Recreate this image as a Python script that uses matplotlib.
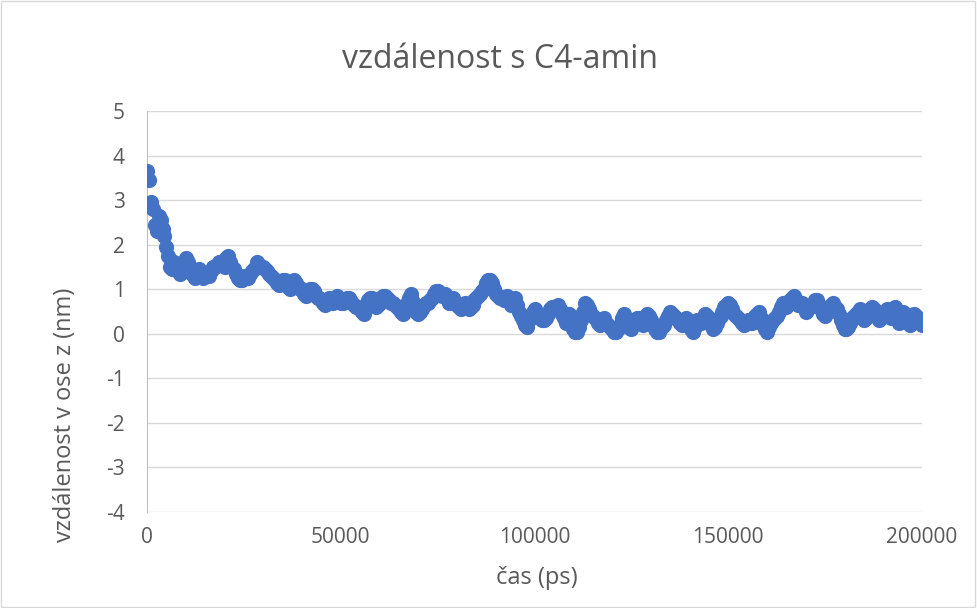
import matplotlib.pyplot as plt

# distance readings every 1000 ps (0, 1000, ... 200000)
cas_cele = [i * 1000 for i in range(201)]
vzdalenost_cele = [
    3.65, 2.95, 2.45, 2.65, 2.35, 1.95, 1.5, 1.6, 1.4, 1.5,
    1.7, 1.5, 1.3, 1.4, 1.3, 1.35, 1.3, 1.5, 1.55, 1.6,
    1.5, 1.75, 1.5, 1.35, 1.2, 1.3, 1.25, 1.4, 1.5, 1.55,
    1.5, 1.4, 1.3, 1.2, 1.1, 1.2, 1.15, 1.0, 1.2, 1.05,
    1.0, 0.85, 1.0, 0.95, 0.8, 0.75, 0.65, 0.8, 0.7, 0.85,
    0.7, 0.75, 0.8, 0.7, 0.6, 0.55, 0.45, 0.75, 0.8, 0.6,
    0.7, 0.85, 0.8, 0.7, 0.65, 0.55, 0.45, 0.7, 0.9, 0.6,
    0.45, 0.55, 0.7, 0.75, 0.9, 0.95, 0.85, 0.9, 0.7, 0.8,
    0.65, 0.55, 0.7, 0.55, 0.65, 0.8, 0.9, 1.0, 1.2, 1.15,
    0.9, 0.8, 0.75, 0.85, 0.65, 0.8, 0.5, 0.3, 0.15, 0.4,
    0.55, 0.4, 0.3, 0.35, 0.55, 0.6, 0.65, 0.45, 0.25, 0.45,
    0.1, 0.05, 0.3, 0.7, 0.55, 0.4, 0.3, 0.2, 0.35, 0.2,
    0.1, 0.05, 0.2, 0.45, 0.25, 0.1, 0.3, 0.35, 0.2, 0.45,
    0.3, 0.1, 0.05, 0.15, 0.3, 0.5, 0.4, 0.3, 0.2, 0.35,
    0.15, 0.05, 0.3, 0.25, 0.45, 0.3, 0.1, 0.25, 0.4, 0.6,
    0.7, 0.55, 0.4, 0.3, 0.2, 0.3, 0.25, 0.4, 0.5, 0.2,
    0.05, 0.25, 0.35, 0.5, 0.7, 0.6, 0.75, 0.85, 0.65, 0.7,
    0.5, 0.6, 0.7, 0.75, 0.55, 0.4, 0.55, 0.7, 0.55, 0.3,
    0.1, 0.15, 0.35, 0.45, 0.55, 0.3, 0.45, 0.6, 0.5, 0.3,
    0.4, 0.55, 0.35, 0.6, 0.25, 0.5, 0.3, 0.2, 0.45, 0.3,
    0.2,
]

# readings in between (500, 1500, ... 199500)
cas_pul = [500 + i * 1000 for i in range(200)]
vzdalenost_pul = [
    3.45, 2.8, 2.3, 2.55, 2.2, 1.75, 1.45, 1.55, 1.35, 1.6,
    1.6, 1.35, 1.25, 1.45, 1.25, 1.3, 1.4, 1.5, 1.6, 1.55,
    1.7, 1.6, 1.45, 1.25, 1.2, 1.3, 1.35, 1.45, 1.6, 1.5,
    1.45, 1.35, 1.25, 1.15, 1.15, 1.2, 1.05, 1.1, 1.15, 1.0,
    0.9, 0.95, 1.0, 0.85, 0.8, 0.7, 0.7, 0.75, 0.8, 0.75,
    0.7, 0.8, 0.75, 0.65, 0.6, 0.5, 0.6, 0.8, 0.7, 0.65,
    0.8, 0.85, 0.75, 0.7, 0.6, 0.5, 0.55, 0.8, 0.75, 0.5,
    0.5, 0.65, 0.7, 0.8, 0.95, 0.9, 0.9, 0.8, 0.75, 0.7,
    0.6, 0.65, 0.6, 0.6, 0.75, 0.85, 0.95, 1.15, 1.2, 1.0,
    0.85, 0.8, 0.8, 0.75, 0.75, 0.65, 0.4, 0.2, 0.3, 0.5,
    0.45, 0.35, 0.3, 0.45, 0.6, 0.6, 0.55, 0.35, 0.35, 0.25,
    0.05, 0.15, 0.5, 0.65, 0.45, 0.35, 0.25, 0.3, 0.25, 0.15,
    0.05, 0.1, 0.35, 0.35, 0.15, 0.2, 0.35, 0.25, 0.35, 0.4,
    0.2, 0.05, 0.1, 0.2, 0.4, 0.45, 0.35, 0.25, 0.3, 0.25,
    0.1, 0.15, 0.3, 0.35, 0.4, 0.2, 0.15, 0.35, 0.5, 0.65,
    0.65, 0.45, 0.35, 0.25, 0.25, 0.3, 0.3, 0.45, 0.35, 0.1,
    0.15, 0.3, 0.4, 0.6, 0.65, 0.7, 0.8, 0.75, 0.7, 0.6,
    0.55, 0.65, 0.75, 0.65, 0.45, 0.5, 0.65, 0.6, 0.45, 0.2,
    0.1, 0.25, 0.4, 0.5, 0.4, 0.35, 0.55, 0.55, 0.4, 0.35,
    0.5, 0.45, 0.5, 0.45, 0.35, 0.4, 0.25, 0.3, 0.4, 0.25,
]

x_ticks = [0, 50000, 100000, 150000, 200000]
y_ticks = [-4, -3, -2, -1, 0, 1, 2, 3, 4, 5]

text_col = "#595959"
plt.rcParams['font.family'] = ['Open Sans', 'DejaVu Sans']
plt.rcParams['axes.unicode_minus'] = False

W, H = 977, 608
fig = plt.figure(figsize=(W / 100, H / 100), dpi=100)
ax = fig.add_axes([147 / W, 1 - 512 / H, 775 / W, 401 / H])

cas = cas_cele + cas_pul
vzdalenost = vzdalenost_cele + vzdalenost_pul
ax.scatter(cas, vzdalenost, s=120, color="#4472C4", linewidths=0, zorder=3)

ax.set_xlim(0, 200000)
ax.set_ylim(-4, 5)
ax.set_xticks(x_ticks)
ax.set_yticks(y_ticks)
ax.grid(axis='y', color="#d9d9d9", linewidth=1)
ax.set_axisbelow(True)
for side in ['top', 'right', 'bottom']:
    ax.spines[side].set_visible(False)
ax.spines['left'].set_color("#bfbfbf")
ax.tick_params(length=0, colors=text_col, labelsize=15)
ax.tick_params(axis='x', pad=11)
ax.tick_params(axis='y', pad=16)

# titles placed like the Excel chart
fig.text(500 / W, 1 - 60 / H, "vzdálenost s C4-amin", fontsize=23, color=text_col,
         ha='center', va='center')
fig.text(537 / W, 1 - 578 / H, "čas (ps)", fontsize=17, color=text_col,
         ha='center', va='center')
fig.text(65 / W, 1 - 415 / H, "vzdálenost v ose z (nm)", fontsize=17, color=text_col,
         ha='center', va='center', rotation=90)

# chart border
fig.patches.append(plt.Rectangle((0.001, 0.002), 0.997, 0.996, transform=fig.transFigure,
                                 fill=False, edgecolor="#d9d9d9", linewidth=1))

fig.savefig("out.png", dpi=100)
